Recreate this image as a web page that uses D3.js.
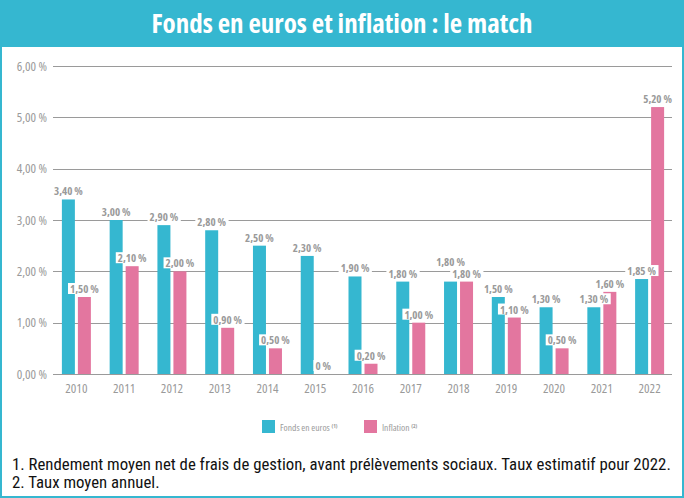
<!DOCTYPE html>
<html lang="fr">
<head>
<meta charset="UTF-8">
<title>Fonds en euros et inflation</title>
<script src="https://d3js.org/d3.v7.min.js"></script>
<style>
  body { margin: 0; background: #fff; }
  svg text { font-family: "Open Sans", sans-serif; font-stretch: condensed; }
  svg text.note { font-family: "Roboto Condensed", "Roboto", sans-serif; }
</style>
</head>
<body>
<div id="chart"></div>
<script>
// data
const years = ["2010","2011","2012","2013","2014","2015","2016","2017","2018","2019","2020","2021","2022"];
const fonds = [3.40, 3.00, 2.90, 2.80, 2.50, 2.30, 1.90, 1.80, 1.80, 1.50, 1.30, 1.30, 1.85];
const inflation = [1.50, 2.10, 2.00, 0.90, 0.50, 0, 0.20, 1.00, 1.80, 1.10, 0.50, 1.60, 5.20];
const yTicks = [0, 1, 2, 3, 4, 5, 6];
const footnotes = [
  "1. Rendement moyen net de frais de gestion, avant prélèvements sociaux. Taux estimatif pour 2022.",
  "2. Taux moyen annuel."
];

const W = 684, H = 498;
const teal = "#35b7d0", pink = "#e3769f", grey = "#9a9a9a";

const svg = d3.select("#chart").append("svg")
  .attr("width", W).attr("height", H);

// frame + header
svg.append("rect").attr("x", 1).attr("y", 1).attr("width", W - 2).attr("height", H - 2)
  .attr("fill", "#fff").attr("stroke", teal).attr("stroke-width", 2);
svg.append("rect").attr("x", 0).attr("y", 0).attr("width", W).attr("height", 47).attr("fill", teal);
svg.append("text").attr("x", W / 2).attr("y", 33).attr("text-anchor", "middle")
  .attr("fill", "#fff").attr("font-size", 27).attr("font-weight", "bold")
  .text("Fonds en euros et inflation : le match");

// scales
const x = d3.scaleBand().domain(years).range([52.5, 673.5]).padding(0);
const y = d3.scaleLinear().domain([0, 6]).range([374, 66]);

// grid
svg.append("g").selectAll("line").data(yTicks).join("line")
  .attr("x1", 53).attr("x2", 672)
  .attr("y1", d => Math.round(y(d)) + 0.5).attr("y2", d => Math.round(y(d)) + 0.5)
  .attr("stroke", grey).attr("stroke-width", 1);

// y axis labels
const fmt = v => d3.format(".2f")(v).replace(".", ",") + " %";
svg.append("g").selectAll("text").data(yTicks).join("text")
  .attr("x", 47).attr("y", d => y(d) + 4.5)
  .attr("text-anchor", "end").attr("fill", grey).attr("font-size", 13)
  .text(d => fmt(d));

// x axis labels
svg.append("g").selectAll("text").data(years).join("text")
  .attr("x", d => x(d) + x.bandwidth() / 2).attr("y", 393)
  .attr("text-anchor", "middle").attr("fill", grey).attr("font-size", 13)
  .text(d => d);

const bw = 13, gap = 3;
const rows = years.map((yr, i) => ({ yr, f: fonds[i], inf: inflation[i] }));

// bars
const g = svg.append("g");
g.selectAll("rect.f").data(rows).join("rect").attr("class", "f")
  .attr("x", d => x(d.yr) + x.bandwidth() / 2 - gap / 2 - bw)
  .attr("width", bw)
  .attr("y", d => y(d.f)).attr("height", d => y(0) - y(d.f))
  .attr("fill", teal);
g.selectAll("rect.i").data(rows).join("rect").attr("class", "i")
  .attr("x", d => x(d.yr) + x.bandwidth() / 2 + gap / 2)
  .attr("width", bw)
  .attr("y", d => y(d.inf)).attr("height", d => y(0) - y(d.inf))
  .attr("fill", pink);

// value labels with white background
function label(cx, top, txt) {
  const lg = svg.append("g");
  const t = lg.append("text").attr("x", cx).attr("y", top - 4)
    .attr("text-anchor", "middle").attr("fill", grey)
    .attr("font-size", 11).attr("font-weight", "bold").text(txt);
  const b = t.node().getBBox();
  lg.insert("rect", "text").attr("x", b.x - 2).attr("y", b.y + 2).attr("width", b.width + 4)
    .attr("height", b.height - 4).attr("fill", "#fff");
}
rows.forEach(d => {
  const c = x(d.yr) + x.bandwidth() / 2;
  const fx = c - gap / 2 - bw / 2, ix = c + gap / 2 + bw / 2;
  let ft = y(d.f);
  if (Math.abs(d.f - d.inf) < 0.15) ft -= 12;
  label(fx, ft, fmt(d.f));
  label(ix, y(d.inf), d.inf === 0 ? "0 %" : fmt(d.inf));
});

// legend
const leg = svg.append("g").attr("font-size", 9.5).attr("fill", grey);
leg.append("rect").attr("x", 262).attr("y", 420).attr("width", 13).attr("height", 13).attr("fill", teal);
const t1 = leg.append("text").attr("x", 280).attr("y", 431).attr("fill", grey);
t1.append("tspan").text("Fonds en euros ");
t1.append("tspan").attr("font-size", 5.5).attr("font-weight", "bold").attr("dy", -3).text("(1)");
leg.append("rect").attr("x", 364).attr("y", 420).attr("width", 13).attr("height", 13).attr("fill", pink);
const t2 = leg.append("text").attr("x", 382).attr("y", 431).attr("fill", grey);
t2.append("tspan").text("Inflation ");
t2.append("tspan").attr("font-size", 5.5).attr("font-weight", "bold").attr("dy", -3).text("(2)");

// footnotes
svg.append("g").selectAll("text").data(footnotes).join("text")
  .attr("class", "note")
  .attr("x", 12).attr("y", (d, i) => 470 + i * 18)
  .attr("fill", "#111").attr("font-size", 16.8)
  .text(d => d);
</script>
</body>
</html>
